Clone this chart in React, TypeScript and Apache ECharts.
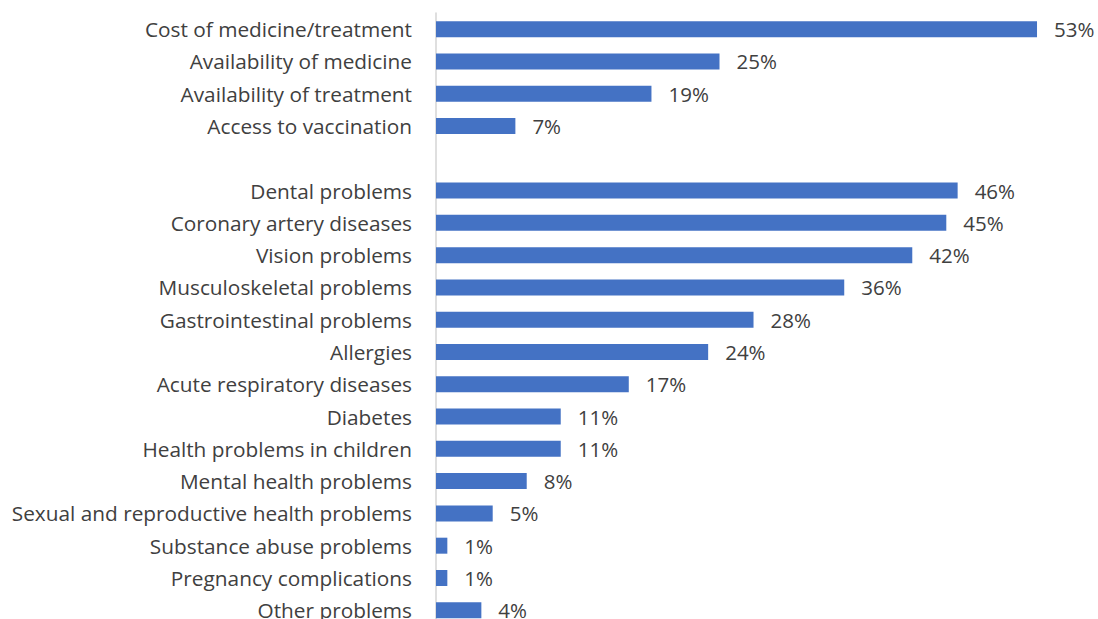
import React, { useEffect, useRef } from "react";
import * as echarts from "echarts";

const categories = [
  "Cost of medicine/treatment",
  "Availability of medicine",
  "Availability of treatment",
  "Access to vaccination",
  "",
  "Dental problems",
  "Coronary artery diseases",
  "Vision problems",
  "Musculoskeletal problems",
  "Gastrointestinal problems",
  "Allergies",
  "Acute respiratory diseases",
  "Diabetes",
  "Health problems in children",
  "Mental health problems",
  "Sexual and reproductive health problems",
  "Substance abuse problems",
  "Pregnancy complications",
  "Other problems",
];

const values: (number | null)[] = [53, 25, 19, 7, null, 46, 45, 42, 36, 28, 24, 17, 11, 11, 8, 5, 1, 1, 4];

const FONT = "Open Sans";
const TEXT_COLOR = "#404040";

export default function App() {
  const ref = useRef<HTMLDivElement>(null);
  useEffect(() => {
    if (!ref.current) return;
    const chart = echarts.init(ref.current, undefined, { renderer: "svg" });
    chart.setOption({
      animation: false,
      backgroundColor: "#ffffff",
      grid: { left: 436, top: 13, width: 680.4, height: 613.4, containLabel: false },
      xAxis: {
        type: "value",
        min: 0,
        max: 60,
        show: false,
      },
      yAxis: {
        type: "category",
        data: categories,
        inverse: true,
        axisLine: { show: true, lineStyle: { color: "#d4d4d4", width: 1.5 } },
        axisTick: { show: false },
        axisLabel: {
          margin: 24,
          color: TEXT_COLOR,
          fontFamily: FONT,
          fontSize: 20.8,
        },
      },
      series: [
        {
          type: "bar",
          data: values,
          barWidth: 16,
          itemStyle: { color: "#4472C4" },
          label: {
            show: true,
            position: "right",
            distance: 17,
            color: TEXT_COLOR,
            fontFamily: FONT,
            fontSize: 20.5,
            formatter: (p: any) => (p.value == null ? "" : p.value + "%"),
          },
        },
      ],
    });
    return () => chart.dispose();
  }, []);
  return (
    <div
      ref={ref}
      style={{ position: "fixed", left: 0, top: 0, width: 1200, height: 660, background: "#fff" }}
    />
  );
}
